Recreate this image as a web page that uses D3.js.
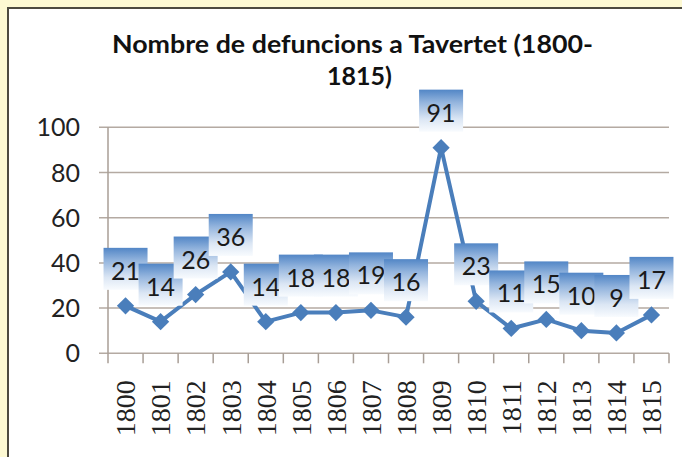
<!DOCTYPE html>
<html>
<head>
<meta charset="utf-8">
<script src="https://cdn.jsdelivr.net/npm/d3@7"></script>
<style>
  html, body { margin: 0; padding: 0; background: #fdf9d3; }
  svg { display: block; }
</style>
</head>
<body>
<div id="chart"></div>
<script>
// Data
const years = ["1800", "1801", "1802", "1803", "1804", "1805", "1806", "1807",
               "1808", "1809", "1810", "1811", "1812", "1813", "1814", "1815"];
const deaths = [21, 14, 26, 36, 14, 18, 18, 19, 16, 91, 23, 11, 15, 10, 9, 17];
const yTicks = [0, 20, 40, 60, 80, 100];
const titleLines = ["Nombre de defuncions a Tavertet (1800-", "1815)"];

const width = 682, height = 457;
const blue = "#4a7ebb";

const svg = d3.select("#chart")
  .append("svg")
  .attr("width", width)
  .attr("height", height);

// gradient for the data label boxes
const grad = svg.append("defs").append("linearGradient")
  .attr("id", "boxGrad")
  .attr("x1", 0).attr("y1", 0).attr("x2", 0).attr("y2", 1);
grad.append("stop").attr("offset", "0%").attr("stop-color", "#5286c6");
grad.append("stop").attr("offset", "30%").attr("stop-color", "#93b4dd");
grad.append("stop").attr("offset", "70%").attr("stop-color", "#dbe6f4");
grad.append("stop").attr("offset", "100%").attr("stop-color", "#f8fbfe");

// chart area (white panel with dark border, cropped on right/bottom)
svg.append("rect")
  .attr("x", 8).attr("y", 8)
  .attr("width", width).attr("height", height)
  .attr("fill", "#fff")
  .attr("stroke", "#4d4a40")
  .attr("stroke-width", 2);

// title
svg.append("text")
  .attr("x", 352.5).attr("y", 52.5)
  .attr("text-anchor", "middle")
  .attr("textLength", 481)
  .attr("lengthAdjust", "spacingAndGlyphs")
  .style("font-family", "Lato, sans-serif")
  .style("font-weight", "bold")
  .style("font-size", "25px")
  .attr("fill", "#111")
  .text(titleLines[0]);
svg.append("text")
  .attr("x", 359.5).attr("y", 85)
  .attr("text-anchor", "middle")
  .style("font-family", "Lato, sans-serif")
  .style("font-weight", "bold")
  .style("font-size", "25px")
  .attr("fill", "#111")
  .text(titleLines[1]);

// scales
const x = d3.scaleBand().domain(years).range([108, 669]).padding(0);
const y = d3.scaleLinear().domain([0, 100]).range([353.3, 127.3]);
const cx = d => x(d) + x.bandwidth() / 2;

// gridlines and y axis ticks
svg.append("g")
  .selectAll("line")
  .data(yTicks)
  .join("line")
  .attr("x1", 99).attr("x2", 669)
  .attr("y1", d => y(d)).attr("y2", d => y(d))
  .attr("stroke", "#b4aaa2")
  .attr("stroke-width", 1.5);

// y axis line
svg.append("line")
  .attr("x1", 108).attr("x2", 108)
  .attr("y1", y(100)).attr("y2", y(0))
  .attr("stroke", "#a89e96")
  .attr("stroke-width", 1.5);

// y tick labels
svg.append("g")
  .selectAll("text")
  .data(yTicks)
  .join("text")
  .attr("x", 80)
  .attr("y", d => y(d))
  .attr("dy", "0.36em")
  .attr("text-anchor", "end")
  .style("font-family", "Lato, sans-serif")
  .style("font-size", "25px")
  .attr("fill", "#222")
  .text(d => d);

// x axis tick marks at category boundaries
const bounds = years.map(d => x(d)).concat([x.range()[1]]);
svg.append("g")
  .selectAll("line")
  .data(bounds)
  .join("line")
  .attr("x1", d => d).attr("x2", d => d)
  .attr("y1", y(0)).attr("y2", y(0) + 10)
  .attr("stroke", "#a89e96")
  .attr("stroke-width", 1.5);

// x tick labels (rotated)
svg.append("g")
  .selectAll("text")
  .data(years)
  .join("text")
  .attr("transform", d => `translate(${cx(d)}, ${y(0) + 27}) rotate(-90)`)
  .attr("dy", "0.35em")
  .attr("text-anchor", "end")
  .style("font-family", "'Liberation Serif', serif")
  .style("font-size", "28px")
  .attr("fill", "#222")
  .text(d => d);

// line
const line = d3.line()
  .x((d, i) => cx(years[i]))
  .y(d => y(d));

svg.append("path")
  .datum(deaths)
  .attr("d", line)
  .attr("fill", "none")
  .attr("stroke", blue)
  .attr("stroke-width", 4)
  .attr("stroke-linejoin", "round");

// diamond markers
svg.append("g")
  .selectAll("path")
  .data(deaths)
  .join("path")
  .attr("transform", (d, i) => `translate(${cx(years[i])}, ${y(d)})`)
  .attr("d", d3.symbol().type(d3.symbolDiamond2).size(190))
  .attr("fill", blue);

// data label boxes
const boxW = 44, boxH = 42;
const labels = svg.append("g")
  .selectAll("g")
  .data(deaths)
  .join("g")
  .attr("transform", (d, i) => `translate(${cx(years[i])}, ${y(d) - 16})`);

labels.append("rect")
  .attr("x", -boxW / 2)
  .attr("y", -boxH)
  .attr("width", boxW)
  .attr("height", boxH)
  .attr("fill", "url(#boxGrad)");

labels.append("text")
  .attr("y", -10)
  .attr("text-anchor", "middle")
  .style("font-family", "Lato, sans-serif")
  .style("font-size", "25px")
  .attr("fill", "#1a1a1a")
  .text(d => d);
</script>
</body>
</html>
